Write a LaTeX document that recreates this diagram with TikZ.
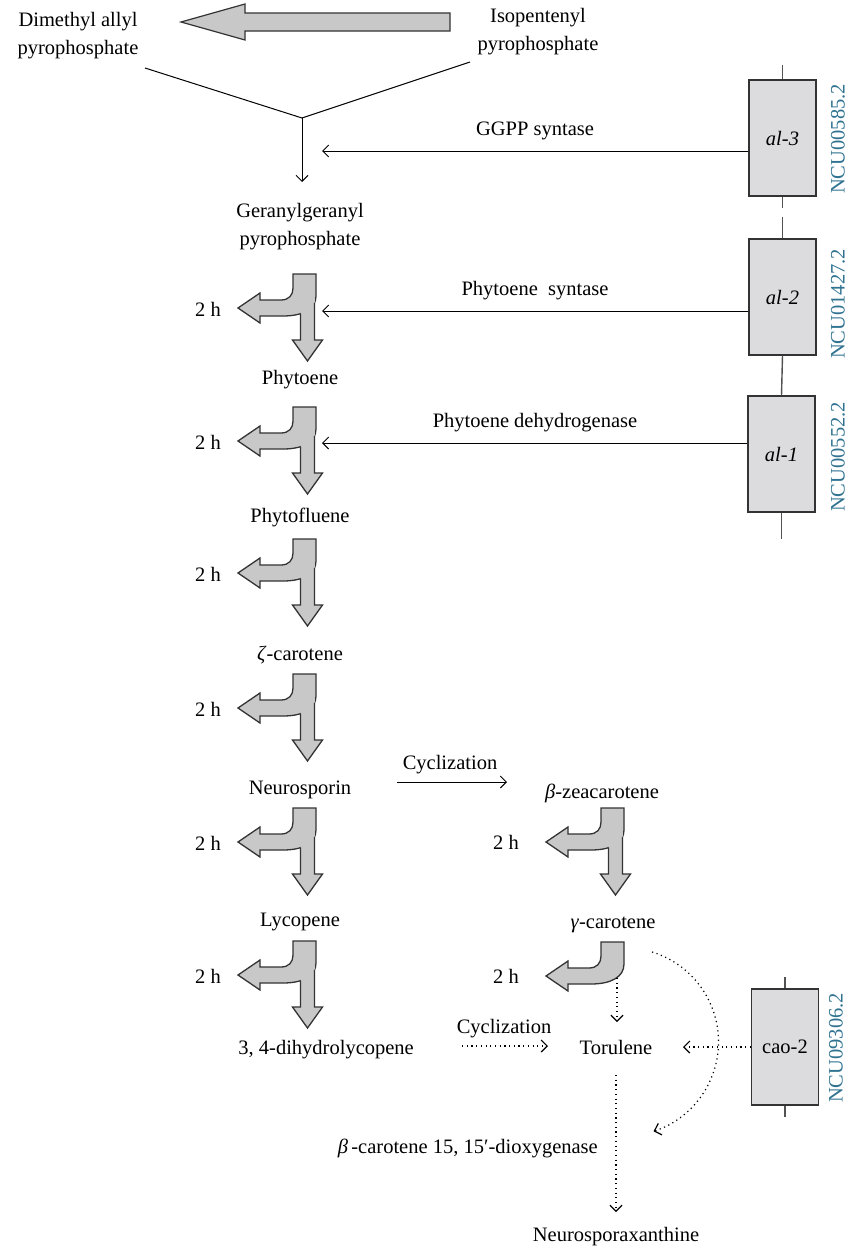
\documentclass[tikz,border=0pt]{standalone}
\usepackage{fontspec}
\setmainfont{Liberation Serif}
\usetikzlibrary{arrows.meta}
\definecolor{ncucol}{HTML}{2F7391}
\definecolor{boxfill}{HTML}{DCDCDE}
\definecolor{arrfill}{HTML}{C8C8C8}
\definecolor{edgecol}{HTML}{333333}
\newcommand{\forkarrow}[3]{%
\begin{scope}[shift={(#1,#2)}]
\draw[fill=arrfill, draw=edgecol, line width=1.3pt]
 (0,0) -- (23,0) -- (23,22) .. controls (23,35) and (10,42) .. (-10,42) -- (-33,42) -- (-33,49) -- (-55,34) -- (-33,19) -- (-33,26) -- (-12,26) .. controls (-4,26) and (0,21) .. (0,14) -- cycle;
\ifnum#3=1
\fill[arrfill] (7.5,20) rectangle (21.5,67);
\draw[fill=arrfill, draw=edgecol, line width=1.3pt] (21.5,28.6) -- (21.5,66) -- (29.5,66) -- (14.5,87) -- (-0.5,66) -- (7.5,66) -- (7.5,39.6);
\fi
\end{scope}}
\begin{document}
\begin{tikzpicture}[x=1pt,y=-1pt,
  every node/.style={font=\fontsize{20.5}{28}\selectfont, inner sep=0pt, align=center},
  genebox/.style={draw=edgecol, fill=boxfill, line width=1.2pt, minimum width=67pt, minimum height=116pt},
  ncu/.style={text=ncucol, rotate=90},
  thinarr/.style={line width=1pt, -{Straight Barb[length=6pt,width=12pt]}},
  dotarr/.style={line width=1.2pt, dash pattern=on 1.2pt off 3.5pt, -{Straight Barb[length=6pt,width=12pt]}},
  stem/.style={line width=1.4pt, draw=edgecol!85},
  twoh/.style={anchor=east}]
\useasboundingbox (0,0) rectangle (847,1250);
\fill[white] (0,0) rectangle (847,1250);

% top
\node (dmap) at (78,36) {Dimethyl allyl\\pyrophosphate};
\node (ipp) at (538,32) {Isopentenyl\\pyrophosphate};
\draw[fill=arrfill, draw=edgecol, line width=1.2pt] (450,13) -- (245,13) -- (245,4) -- (181,22) -- (245,40) -- (245,31) -- (450,31) -- cycle;
\coordinate (va) at (145,68);
\coordinate (vb) at (470,62);
\coordinate (vtx) at (302,118);
\coordinate (vend) at (302,182);
\draw[line width=1pt] (va) -- (vtx) -- (vb);
\draw[thinarr] (vtx) -- (vend);

% gene boxes
\node[genebox] (al3) at (782.5,138) {\itshape al-3};
\node[genebox] (al2) at (782.5,297) {\itshape al-2};
\node[genebox] (al1) at (781.5,454) {\itshape al-1};
\node[genebox] (cao2) at (785,1047) {cao-2};
\draw[stem] (al3.north) -- ++(0,-14);
\draw[stem] (al3.south) -- ++(0,11);
\draw[stem] (al2.north) -- ++(0,-21);
\draw[stem] (al2.south) -- (al1.north);
\draw[stem] (al1.south) -- ++(0,26);
\draw[stem] (cao2.north) -- ++(0,-11);
\draw[stem] (cao2.south) -- ++(0,11);
\node[ncu] (n1) at (838,139) {NCU00585.2};
\node[ncu] (n2) at (838,304) {NCU01427.2};
\node[ncu] (n3) at (838,457) {NCU00552.2};
\node[ncu] (n4) at (836,1048) {NCU09306.2};

% enzyme arrows
\coordinate (e1) at (322,151);
\coordinate (e2) at (322,311);
\coordinate (e3) at (322,443);
\draw[thinarr] (al3.west |- e1) -- (e1);
\draw[thinarr] (al2.west |- e2) -- (e2);
\draw[thinarr] (al1.west |- e3) -- (e3);
\node (ggpps) at (535,131) {GGPP syntase};
\node (phys) at (535,291) {Phytoene\ \ syntase};
\node (phyd) at (535,423) {Phytoene dehydrogenase};

% left column
\node (ggpp) at (300,227) {Geranylgeranyl\\pyrophosphate};
\node (phytoene) at (300,380) {Phytoene};
\node (phytofl) at (300,517) {Phytofluene};
\node (zeta) at (300,655) {\textit{ζ}-carotene};
\node (neuro) at (300,790) {Neurosporin};
\node (lyco) at (300,922) {Lycopene};
\node[anchor=east] (dihydro) at (414,1050) {3, 4-dihydrolycopene};

\forkarrow{293}{274}{1}
\forkarrow{293}{407}{1}
\forkarrow{293}{539}{1}
\forkarrow{293}{674}{1}
\forkarrow{293}{808}{1}
\forkarrow{293}{941}{1}
\node[twoh] (h1) at (221,309) {2 h};
\node[twoh] (h2) at (221,442) {2 h};
\node[twoh] (h3) at (221,574) {2 h};
\node[twoh] (h4) at (221,709) {2 h};
\node[twoh] (h5) at (221,843) {2 h};
\node[twoh] (h6) at (221,976) {2 h};

% right column
\node (bzea) at (602,793) {\textit{β}-zeacarotene};
\node (gcar) at (613,925) {\textit{γ}-carotene};
\node (torul) at (616,1047) {Torulene};
\node (neurox) at (616,1237) {Neurosporaxanthine};
\node[anchor=east] (dioxy) at (598,1148) {\textit{β}\,-carotene 15, 15′-dioxygenase};
\forkarrow{601}{808}{1}
\forkarrow{601}{942}{0}
\node[twoh] (h7) at (519,842) {2 h};
\node[twoh] (h8) at (519,976) {2 h};

% cyclization
\node (cyc1) at (450,765) {Cyclization};
\coordinate (c1a) at (397,782);
\coordinate (c1b) at (507,782);
\draw[thinarr] (c1a) -- (c1b);
\node (cyc2) at (504,1029) {Cyclization};
\coordinate (c2a) at (462,1046);
\coordinate (c2b) at (548,1046);
\draw[dotarr] (c2a) -- (c2b);

% dotted connectors
\coordinate (gdown) at (617,978);
\coordinate (gtip) at (617,1022);
\draw[dotarr] (gdown) -- (gtip);
\coordinate (caotip) at (683,1047);
\draw[dotarr] (cao2.west) -- (caotip);
\coordinate (tdown) at (616,1075);
\coordinate (ttip) at (616,1212);
\draw[dotarr] (tdown) -- (ttip);
\coordinate (arcs) at (652,952);
\draw[dotarr] (arcs) arc[start angle=-73, end angle=72, radius=94];
\end{tikzpicture}
\end{document}
